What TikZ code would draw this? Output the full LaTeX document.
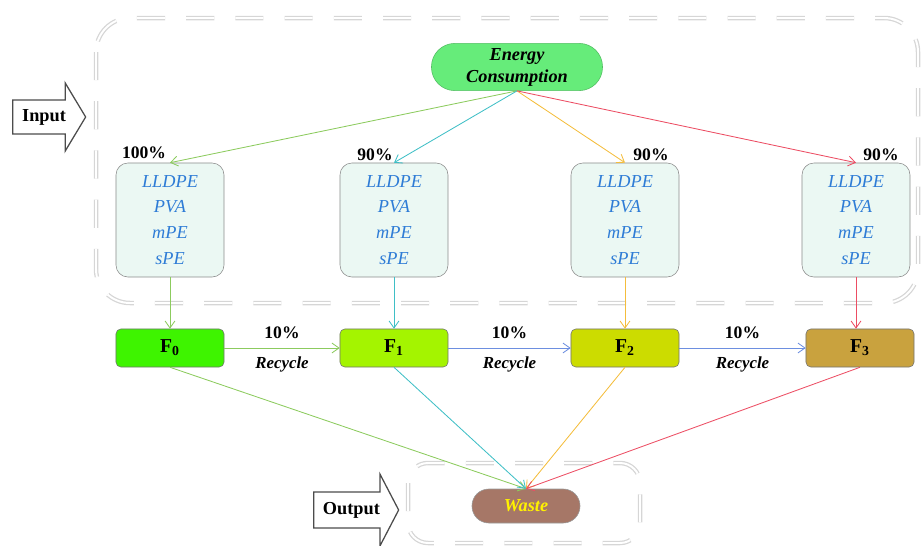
\documentclass[tikz,border=0pt]{standalone}
\usepackage{fontspec}
\setmainfont{Liberation Serif}
\usetikzlibrary{shapes.arrows,arrows.meta,positioning}

\definecolor{cgreen}{HTML}{8CCB5E}
\definecolor{ccyan}{HTML}{3FBFC6}
\definecolor{cyell}{HTML}{F4BD3C}
\definecolor{cred}{HTML}{EC4D63}
\definecolor{cblue}{HTML}{6D8FE0}
\definecolor{mint}{HTML}{EBF8F3}
\definecolor{txtblue}{HTML}{2E7CD6}
\definecolor{egreen}{HTML}{66EC7A}
\definecolor{fzero}{HTML}{3EF400}
\definecolor{fone}{HTML}{A4F400}
\definecolor{ftwo}{HTML}{CCDC00}
\definecolor{fthree}{HTML}{C9A23E}
\definecolor{wbrown}{HTML}{A67767}

\tikzset{
  zone/.style={draw=black!16, line width=0.9pt, double=white, double distance=1.4pt,
    dash pattern=on 20pt off 15pt},
  blockarrow/.style={single arrow, draw=black!70, line width=0.9pt, fill=white,
    font=\fontsize{13}{15}\bfseries, text height=9pt, text depth=3pt, inner xsep=4pt},
  matbox/.style={draw=black!45, fill=mint, rounded corners=0.3cm, align=center,
    minimum width=2.7cm, minimum height=2.85cm, text=txtblue,
    font=\fontsize{13}{18.4}\itshape},
  fbox/.style={draw=black!55, rounded corners=0.12cm, minimum width=2.7cm,
    minimum height=0.95cm, font=\fontsize{14}{16}\bfseries},
  pct/.style={font=\fontsize{12.5}{14}\bfseries, text=black, inner sep=1pt},
  rec/.style={font=\fontsize{12}{14}\bfseries\itshape, text=black, inner sep=1pt},
  arr/.style={line width=0.6pt, -{Straight Barb[length=5pt,width=7pt]}}
}

\begin{document}
\begin{tikzpicture}[x=0.025cm, y=-0.025cm]
  \useasboundingbox (0,0) rectangle (921,546);

  % Dashed zones
  \draw[zone, rounded corners=0.85cm] (96,18) rectangle (918,303);
  \draw[zone, rounded corners=0.5cm] (408,463) rectangle (640,543);

  % Input / Output
  \node[blockarrow, anchor=tail, minimum height=1.825cm, inner ysep=5.7pt,
    single arrow head extend=0.425cm, single arrow tip angle=118] (inp) at (12,117) {Input};
  \node[blockarrow, anchor=tail, minimum height=2.125cm, inner ysep=6.4pt,
    single arrow head extend=0.44cm, single arrow tip angle=125] (outp) at (313,510) {Output};

  % Energy
  \node[draw=egreen!80!black, fill=egreen, rounded corners=0.58cm, align=center,
    minimum width=4.275cm, minimum height=1.175cm,
    font=\fontsize{13}{15.6}\bfseries\itshape] (energy) at (517,67) {Energy\\Consumption};

  % Materials
  \foreach \i/\x/\c in {1/170/cgreen, 2/394/ccyan, 3/625/cyell, 4/856/cred} {
    \node[matbox] (m\i) at (\x,220) {LLDPE\\PVA\\mPE\\sPE};
    \draw[arr, \c] (energy.south) -- (m\i.north);
  }
  \node[pct] (p1) at (144,153) {100\%};
  \node[pct] (p2) at (375,155) {90\%};
  \node[pct] (p3) at (651,155) {90\%};
  \node[pct] (p4) at (881,155) {90\%};

  % Films
  \foreach \i/\x/\c in {0/170/fzero, 1/394/fone, 2/625/ftwo, 3/860/fthree}
    \node[fbox, fill=\c] (f\i) at (\x,348) {F\textsubscript{\i}};

  \draw[arr, cgreen] (m1) -- (f0);
  \draw[arr, ccyan] (m2) -- (f1);
  \draw[arr, cyell] (m3) -- (f2);
  \draw[arr, cred] (m4.south) -- (m4.south |- f3.north);

  % Recycle
  \draw[arr, cgreen] (f0) -- node[pct, above=5pt] (r1) {10\%} node[rec, below=5pt] (c1) {Recycle} (f1);
  \draw[arr, cblue] (f1) -- node[pct, above=5pt] (r2) {10\%} node[rec, below=5pt] (c2) {Recycle} (f2);
  \draw[arr, cblue] (f2) -- node[pct, above=5pt] (r3) {10\%} node[rec, below=5pt] (c3) {Recycle} (f3);

  % Waste
  \node[draw=black!40, fill=wbrown, rounded corners=0.42cm, minimum width=2.7cm,
    minimum height=0.85cm, text=yellow, font=\fontsize{13}{15}\bfseries\itshape] (waste) at (526,506) {Waste};
  \draw[arr, cgreen] (f0.south) -- (waste.north);
  \draw[arr, ccyan] (f1.south) -- (waste.north);
  \draw[arr, cyell] (f2.south) -- (waste.north);
  \draw[arr, cred] (f3.south) -- (waste.north);
\end{tikzpicture}
\end{document}
